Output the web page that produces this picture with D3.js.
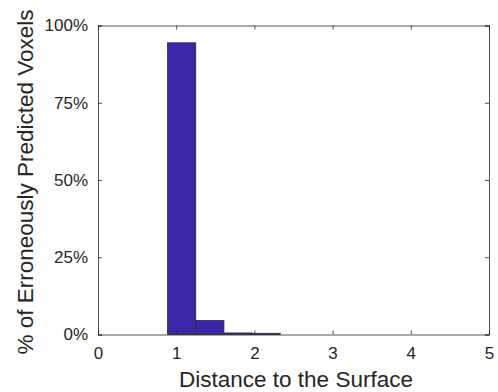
<!DOCTYPE html>
<html>
<head>
<meta charset="utf-8">
<script src="https://cdn.jsdelivr.net/npm/d3@7"></script>
<style>
  body { margin: 0; background: #fff; }
  text { font-family: "Liberation Sans", Arial, sans-serif; fill: #262626; }
</style>
</head>
<body>
<div id="vis"></div>
<script>
// bin edges and counts (percent)
const binEdges = [0.89, 1.25, 1.61, 1.97, 2.33];
const binValues = [94.4, 4.5, 0.5, 0.4];
const xTicks = [0, 1, 2, 3, 4, 5];
const yTicks = [0, 25, 50, 75, 100];

const W = 498, H = 392;
const margin = {top: 25.5, right: 9, bottom: 57.5, left: 98};
const width = W - margin.left - margin.right,
      height = H - margin.top - margin.bottom;

const svg = d3.select("#vis").append("svg")
    .attr("width", W)
    .attr("height", H);
const g = svg.append("g")
    .attr("transform", "translate(" + margin.left + "," + margin.top + ")");

const x = d3.scaleLinear().domain([0, 5]).range([0, width]);
const y = d3.scaleLinear().domain([0, 100]).range([height, 0]);

const bins = binValues.map((v, i) => ({x0: binEdges[i], x1: binEdges[i + 1], v: v}));

g.selectAll(".bar")
  .data(bins)
  .enter().append("rect")
    .attr("class", "bar")
    .attr("x", d => x(d.x0))
    .attr("width", d => x(d.x1) - x(d.x0))
    .attr("y", d => y(d.v))
    .attr("height", d => y(0) - y(d.v))
    .style("fill", "#3e26a8")
    .style("stroke", "#2a2a2a")
    .style("stroke-width", 0.8);

// axes, ticks pointing inward like matlab
const tickLen = 4;
const xAxis = d3.axisBottom(x).tickValues(xTicks).tickSize(-tickLen).tickPadding(12)
    .tickFormat(d3.format("d"));
const yAxis = d3.axisLeft(y).tickValues(yTicks).tickSize(-tickLen).tickPadding(10)
    .tickFormat(d => d + "%");

const gx = g.append("g").attr("transform", "translate(0," + height + ")").call(xAxis);
const gy = g.append("g").call(yAxis);
const gxTop = g.append("g").call(d3.axisTop(x).tickValues(xTicks).tickSize(-tickLen).tickFormat(""));
const gyRight = g.append("g").attr("transform", "translate(" + width + ",0)")
    .call(d3.axisRight(y).tickValues(yTicks).tickSize(-tickLen).tickFormat(""));

[gx, gy, gxTop, gyRight].forEach(a => {
  a.select(".domain").attr("stroke", "#262626").attr("stroke-width", 0.8);
  a.selectAll(".tick line").attr("stroke", "#262626").attr("stroke-width", 0.8);
  a.selectAll("text").style("font-size", "17px").attr("fill", "#262626");
});

svg.append("text")
  .attr("x", 296)
  .attr("y", 386.5)
  .attr("text-anchor", "middle")
  .style("font-size", "22.5px")
  .text("Distance to the Surface");

svg.append("text")
  .attr("transform", "translate(33,182) rotate(-90)")
  .attr("text-anchor", "middle")
  .style("font-size", "22.5px")
  .text("% of Erroneously Predicted Voxels");
</script>
</body>
</html>
